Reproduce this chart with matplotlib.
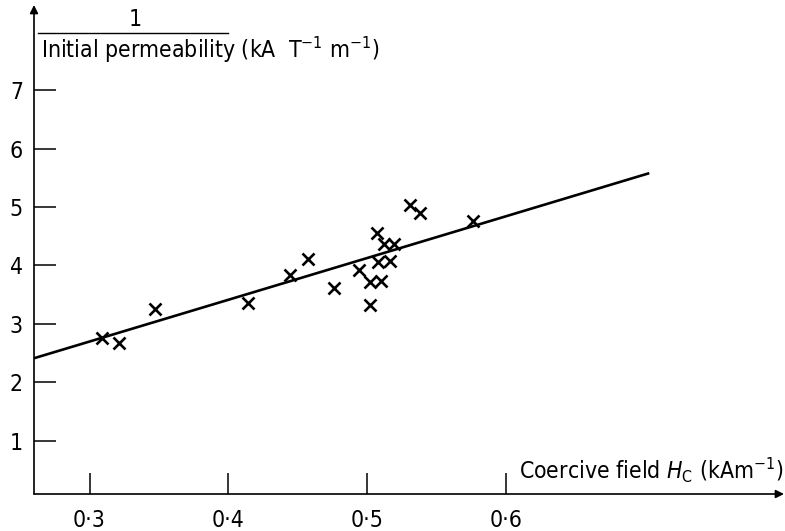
import matplotlib
matplotlib.use("Agg")
import matplotlib.pyplot as plt
from matplotlib.lines import Line2D


# ==========================================================
# Data
# ==========================================================

coercive_field = [
    0.309, 0.321, 0.347, 0.414, 0.444, 0.457, 0.476, 0.494, 0.502, 0.510,
    0.502, 0.508, 0.516, 0.507, 0.512, 0.519, 0.531, 0.538, 0.576,
]
inv_permeability = [
    2.76, 2.67, 3.25, 3.36, 3.84, 4.11, 3.61, 3.92, 3.72, 3.73,
    3.33, 4.06, 4.07, 4.56, 4.36, 4.37, 5.03, 4.89, 4.76,
]

# fitted straight line, end points
fit_x = [0.26, 0.703]
fit_y = [2.41, 5.58]

x_ticks = [0.3, 0.4, 0.5, 0.6]
x_tick_labels = ["0\u00b73", "0\u00b74", "0\u00b75", "0\u00b76"]
y_ticks = [1, 2, 3, 4, 5, 6, 7]


# ==========================================================
# Figure
# ==========================================================

plt.rcParams["font.family"] = ["DejaVu Sans"]
plt.rcParams["font.stretch"] = "condensed"
plt.rcParams["mathtext.fontset"] = "dejavusans"

W, H = 785, 531
fig = plt.figure(figsize=(W / 100, H / 100), dpi=100)

ax_left, ax_right = 34, 784
ax_top, ax_bottom = 5, 494
ax = fig.add_axes([
    ax_left / W,
    1 - ax_bottom / H,
    (ax_right - ax_left) / W,
    (ax_bottom - ax_top) / H,
])

ax.set_xlim(0.26, 0.80)
ax.set_ylim(0.085, 8.46)

ax.plot(fit_x, fit_y, color="black", linewidth=1.9, solid_capstyle="butt")
ax.plot(
    coercive_field,
    inv_permeability,
    linestyle="none",
    marker="x",
    markersize=8.5,
    markeredgewidth=1.9,
    color="black",
)

for side in ["top", "right", "left", "bottom"]:
    ax.spines[side].set_visible(False)

# axes with arrow heads
ax.annotate(
    "",
    xy=(0, 1.0),
    xytext=(0, 0),
    xycoords="axes fraction",
    arrowprops=dict(arrowstyle="-|>", color="black", linewidth=1.2,
                    mutation_scale=12, shrinkA=0, shrinkB=0),
)
ax.annotate(
    "",
    xy=(1.0, 0),
    xytext=(0, 0),
    xycoords="axes fraction",
    arrowprops=dict(arrowstyle="-|>", color="black", linewidth=1.2,
                    mutation_scale=12, shrinkA=0, shrinkB=0),
)

ax.set_xticks(x_ticks)
ax.set_xticklabels(x_tick_labels)
ax.set_yticks(y_ticks)
ax.set_yticklabels([str(v) for v in y_ticks])

ax.tick_params(axis="x", direction="in", length=15, width=1.1,
               labelsize=16.5, pad=11)
ax.tick_params(axis="y", direction="in", length=16, width=1.1,
               labelsize=16.5, pad=8)

# axis titles
fig.text(
    519 / W, 1 - 470 / H,
    r"Coercive field $H_\mathrm{C}$ (kAm$^{-1}$)",
    fontsize=16.5,
    ha="left",
    va="center",
)

fig.text(135 / W, 1 - 20 / H, "1", fontsize=16.5, ha="center", va="center")
fig.add_artist(Line2D(
    [38 / W, 228 / W],
    [1 - 33 / H, 1 - 33 / H],
    color="black",
    linewidth=1.0,
))
fig.text(
    41 / W, 1 - 50 / H,
    r"Initial permeability (kA  T$^{-1}$ m$^{-1}$)",
    fontsize=16.5,
    ha="left",
    va="center",
)

fig.savefig("out.png", dpi=100)
